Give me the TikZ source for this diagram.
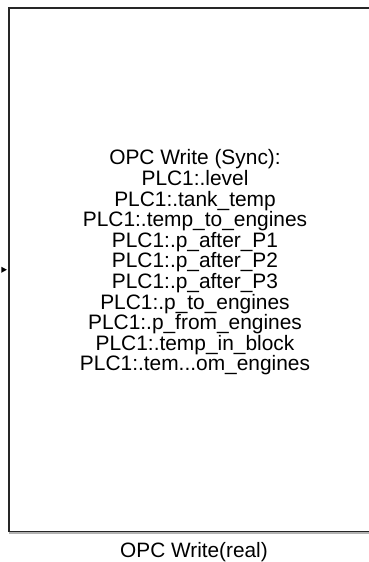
\documentclass[tikz,border=0pt]{standalone}
\usepackage{fontspec}
\setmainfont{Liberation Sans}
\begin{document}
\begin{tikzpicture}[x=1pt,y=-1pt,
  blockbox/.style={draw=black!85, line width=1.3pt, inner sep=0pt, fill=none},
  shadowbox/.style={draw=black!30, line width=1.6pt, inner sep=0pt},
  blocktext/.style={align=center, inner sep=0pt, font=\fontsize{20.9}{20.6}\selectfont},
  labeltext/.style={inner sep=0pt, font=\fontsize{20.8}{22}\selectfont}
]
\useasboundingbox (0,0) rectangle (369,562);
\fill[white] (0,0) rectangle (369,562);
% drop shadow
\node[shadowbox, minimum width=372pt, minimum height=523.5pt] (shd) at (196.2,271) {};
% block
\node[blockbox, fill=white, minimum width=372pt, minimum height=523.5pt] (blk) at (195,269.75) {};
% text
\node[blocktext] (txt) at (195,262.5) {OPC Write (Sync):\\PLC1:.level\\PLC1:.tank\_temp\\PLC1:.temp\_to\_engines\\PLC1:.p\_after\_P1\\PLC1:.p\_after\_P2\\PLC1:.p\_after\_P3\\PLC1:.p\_to\_engines\\PLC1:.p\_from\_engines\\PLC1:.temp\_in\_block\\PLC1:.tem...om\_engines};
% input port
\coordinate (inport) at ([xshift=-1.5pt]blk.west);
\fill[black] (inport) -- ++(-5.5,-3) -- ++(0,6) -- cycle;
% label
\node[labeltext, anchor=base] (lbl) at (194,557) {OPC Write(real)};
\end{tikzpicture}
\end{document}
